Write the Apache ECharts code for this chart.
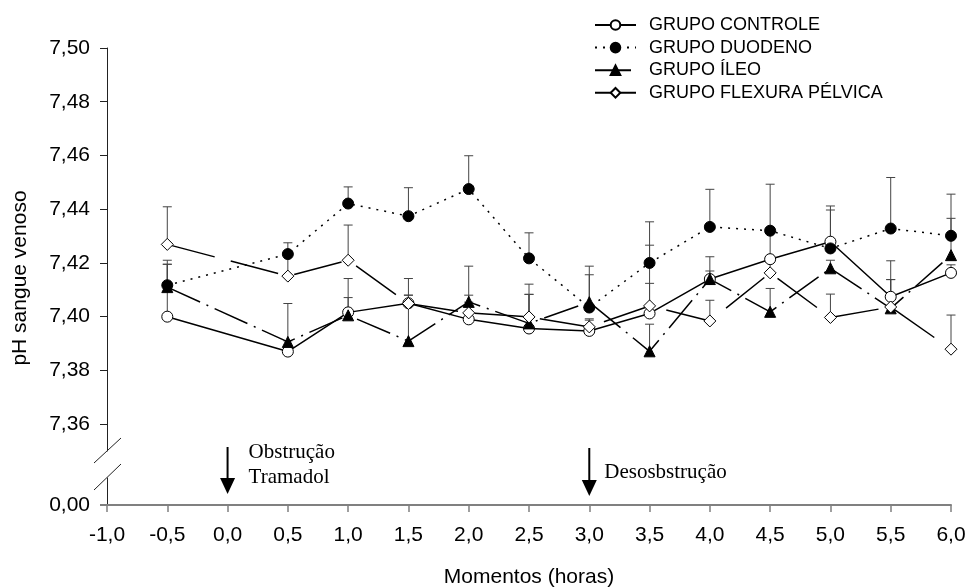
<!DOCTYPE html>
<html>
<head>
<meta charset="utf-8">
<script src="https://cdn.jsdelivr.net/npm/echarts@6/dist/echarts.min.js"></script>
<style>
  html, body { margin: 0; padding: 0; background: #fff; }
  #chart { width: 968px; height: 587px; }
</style>
</head>
<body>
<div id="chart"></div>
<script>
// momentos de coleta (horas)
const momentos = [-0.5, 0.5, 1.0, 1.5, 2.0, 2.5, 3.0, 3.5, 4.0, 4.5, 5.0, 5.5, 6.0];

// médias de pH e erro (só a barra de cima)
const controle = [7.400, 7.387, 7.4016, 7.405, 7.399, 7.3956, 7.3947, 7.4012, 7.414, 7.4214, 7.4279, 7.4074, 7.4163];
const controleErro = [0.0195, 0.004, 0.0055, 0.003, 0.009, 0.0127, 0.004, 0.0112, 0.003, 0.011, 0.0133, 0.0134, 0.003];

const duodeno = [7.4117, 7.4233, 7.4421, 7.4374, 7.4475, 7.4217, 7.4034, 7.4200, 7.4334, 7.4320, 7.4254, 7.4328, 7.4301];
const duodenoErro = [0.0093, 0.0042, 0.0062, 0.0106, 0.0124, 0.0095, 0.0154, 0.0153, 0.014, 0.0173, 0.0143, 0.019, 0.0155];

const ileo = [7.411, 7.3906, 7.4005, 7.3909, 7.4055, 7.3975, 7.4054, 7.3871, 7.414, 7.4018, 7.418, 7.4031, 7.4229];
const ileoErro = [0.0085, 0.0143, 0.0137, 0.0171, 0.0133, 0.0146, 0.0102, 0.0101, 0.0083, 0.0087, 0.003, 0.0107, 0.0137];

const flexura = [7.4269, 7.4151, 7.4210, 7.4049, 7.4014, 7.3999, 7.3962, 7.4040, 7.3984, 7.4163, 7.3997, 7.4036, 7.3879];
const flexuraErro = [0.014, 0.009, 0.0131, 0.0093, 0.004, 0.0084, 0.003, 0.0226, 0.0077, 0.004, 0.0087, 0.0102, 0.0127];

const yTicks = [7.36, 7.38, 7.40, 7.42, 7.44, 7.46, 7.48, 7.50];
const yTicksBaixo = [0];

const sans = "'Liberation Sans', Arial, sans-serif";
const serif = "'Liberation Serif', 'Times New Roman', serif";

const virgula = (v, d) => v.toFixed(d).replace('.', ',');

function linha(nome, valores, simbolo, tamanho, preenchido, tipo) {
  return {
    name: nome,
    type: 'line',
    xAxisIndex: 0,
    yAxisIndex: 0,
    data: momentos.map((x, i) => [x, valores[i]]),
    symbol: simbolo,
    symbolSize: tamanho,
    showAllSymbol: true,
    z: 3,
    lineStyle: { color: '#000', width: 1.5, type: tipo },
    itemStyle: { color: preenchido ? '#000' : '#fff', borderColor: '#000', borderWidth: 1 },
    emphasis: { disabled: true },
  };
}

function barras(valores, erros) {
  return {
    type: 'custom',
    xAxisIndex: 0,
    yAxisIndex: 0,
    z: 1,
    silent: true,
    encode: { x: 0, y: 1 },
    data: momentos.map((x, i) => [x, valores[i], erros[i]]),
    renderItem: function (params, api) {
      const x = api.value(0), m = api.value(1), e = api.value(2);
      const p0 = api.coord([x, m]);
      const p1 = api.coord([x, m + e]);
      const st = { stroke: '#444', lineWidth: 1 };
      return {
        type: 'group',
        children: [
          { type: 'line', shape: { x1: p0[0], y1: p0[1], x2: p1[0], y2: p1[1] }, style: st },
          { type: 'line', shape: { x1: p1[0] - 4.5, y1: p1[1], x2: p1[0] + 4.5, y2: p1[1] }, style: st },
        ],
      };
    },
  };
}

const myechart = echarts.init(document.getElementById('chart'));

const option = {
  animation: false,
  backgroundColor: '#fff',
  grid: [
    { left: 107, right: 17, top: 48, height: 403, outerBoundsMode: 'none' },
    { left: 107, right: 17, top: 478, height: 27, outerBoundsMode: 'none' },
  ],
  legend: {
    orient: 'vertical',
    left: 589,
    top: 11,
    itemWidth: 41,
    itemHeight: 12,
    itemGap: 4.6,
    selectedMode: false,
    data: ['GRUPO CONTROLE', 'GRUPO DUODENO', 'GRUPO ÍLEO', 'GRUPO FLEXURA PÉLVICA'],
    textStyle: { fontFamily: sans, fontSize: 18, color: '#000', padding: [0, 0, 0, 8] },
  },
  xAxis: [
    { gridIndex: 0, type: 'value', min: -1, max: 6, show: false },
    {
      gridIndex: 1, type: 'value', min: -1, max: 6, interval: 0.5,
      name: 'Momentos (horas)', nameLocation: 'middle', nameGap: 62,
      nameTextStyle: { fontFamily: sans, fontSize: 21, color: '#000' },
      axisLine: { onZero: false, lineStyle: { color: '#808080', width: 2 } },
      axisTick: { length: 7, lineStyle: { color: '#808080', width: 1.5 } },
      axisLabel: { fontFamily: sans, fontSize: 21, color: '#000', margin: 20, formatter: v => virgula(v, 1) },
      splitLine: { show: false },
    },
  ],
  yAxis: [
    {
      gridIndex: 0, type: 'value', min: 7.35, max: 7.50,
      axisLine: { show: true, onZero: false, lineStyle: { color: '#222', width: 1 } },
      axisTick: { show: true, length: 7, customValues: yTicks, lineStyle: { color: '#222', width: 1 } },
      axisLabel: { fontFamily: sans, fontSize: 21, color: '#000', margin: 17, customValues: yTicks, formatter: v => virgula(v, 2) },
      splitLine: { show: false },
    },
    {
      gridIndex: 1, type: 'value', min: 0, max: 1,
      axisLine: { show: true, onZero: false, lineStyle: { color: '#222', width: 1 } },
      axisTick: { show: true, length: 7, customValues: yTicksBaixo, lineStyle: { color: '#808080', width: 2 } },
      axisLabel: { fontFamily: sans, fontSize: 21, color: '#000', margin: 17, customValues: yTicksBaixo, formatter: v => virgula(v, 2) },
      splitLine: { show: false },
    },
  ],
  series: [
    barras(controle, controleErro),
    barras(duodeno, duodenoErro),
    barras(ileo, ileoErro),
    barras(flexura, flexuraErro),
    linha('GRUPO CONTROLE', controle, 'circle', 11, false, 'solid'),
    linha('GRUPO DUODENO', duodeno, 'circle', 11, true, [2, 6]),
    linha('GRUPO ÍLEO', ileo, 'triangle', 11, true, [36, 7, 2, 7]),
    linha('GRUPO FLEXURA PÉLVICA', flexura, 'diamond', 12, false, [49, 16.6]),
  ],
};

myechart.setOption(option);

// anotações: quebra do eixo, setas e textos
const eixoX = myechart.convertToPixel({ xAxisIndex: 1 }, -1);
const x0 = myechart.convertToPixel({ xAxisIndex: 1 }, 0);
const x3 = myechart.convertToPixel({ xAxisIndex: 1 }, 3);

function seta(x, y1, y2) {
  return [
    { type: 'line', shape: { x1: x, y1: y1, x2: x, y2: y2 - 14 }, style: { stroke: '#000', lineWidth: 2 } },
    { type: 'polygon', shape: { points: [[x - 7.5, y2 - 16], [x + 7.5, y2 - 16], [x, y2]] }, style: { fill: '#000' } },
  ];
}

myechart.setOption({
  graphic: [
    { type: 'line', shape: { x1: eixoX - 13, y1: 463, x2: eixoX + 14, y2: 438 }, style: { stroke: '#222', lineWidth: 1 } },
    { type: 'line', shape: { x1: eixoX - 13, y1: 490, x2: eixoX + 14, y2: 464 }, style: { stroke: '#222', lineWidth: 1 } },
    ...seta(x0, 447, 494),
    ...seta(x3, 448, 496),
    { type: 'text', x: x0 + 21, y: 452, style: { text: 'Obstrução', font: '21px ' + serif, fill: '#000', verticalAlign: 'middle' } },
    { type: 'text', x: x0 + 21, y: 477, style: { text: 'Tramadol', font: '21px ' + serif, fill: '#000', verticalAlign: 'middle' } },
    { type: 'text', x: x3 + 15, y: 472, style: { text: 'Desosbstrução', font: '21px ' + serif, fill: '#000', verticalAlign: 'middle' } },
    { type: 'text', x: 20, y: 278, rotation: Math.PI / 2, style: { text: 'pH sangue venoso', font: '21px ' + sans, fill: '#000', align: 'center', verticalAlign: 'middle' } },
  ],
});

window.addEventListener('resize', () => {
  myechart.resize();
});
</script>
</body>
</html>
